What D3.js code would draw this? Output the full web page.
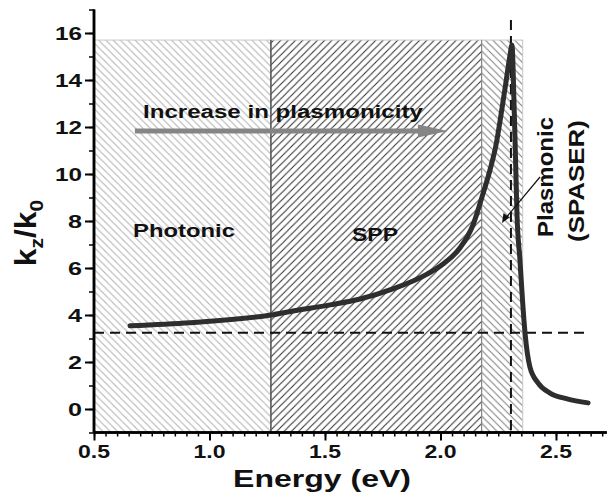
<!DOCTYPE html>
<html>
<head>
<meta charset="utf-8">
<script src="https://cdn.jsdelivr.net/npm/d3@7"></script>
<style>
  body { margin: 0; background: #fff; }
  text { font-family: Arial, "Liberation Sans", sans-serif; font-weight: bold; fill: #111; }
</style>
</head>
<body>
<div id="chart"></div>
<script>
// dispersion curve k_z/k_0 vs energy
var energy = [0.656, 0.916, 1.266, 1.361, 1.522, 1.652, 1.794, 1.942, 2.011, 2.084, 2.1407, 2.1797, 2.2143, 2.2403, 2.2619, 2.2835, 2.3009, 2.3095,
              2.318, 2.325, 2.331, 2.344, 2.355, 2.366, 2.387, 2.422, 2.474, 2.548, 2.639];
var kRatio = [3.54, 3.67, 4.00, 4.17, 4.43, 4.68, 5.11, 5.74, 6.17, 6.85, 7.83, 9.02, 10.17, 11.23, 12.51, 13.91, 15.06, 15.49,
              13.15, 10.6, 8.34, 6.34, 4.64, 3.23, 1.79, 1.11, 0.68, 0.43, 0.26];

// shaded regimes (energy bounds)
var regionNames = ['Photonic', 'SPP', 'Plasmonic'];
var regionStart = [0.5, 1.266, 2.178];
var regionEnd = [1.266, 2.178, 2.356];
var regionTop = 15.7;

// reference lines
var lightLineK = 3.25;      // horizontal dashed
var lightLineEnd = 2.634;
var peakEnergy = 2.305;     // vertical dashed
var peakLineTop = 16.55;

var xTicks = [0.5, 1.0, 1.5, 2.0, 2.5];
var yTicks = [0, 2, 4, 6, 8, 10, 12, 14, 16];

var width = 611, height = 504;
var x = d3.scaleLinear().domain([0.5, 2.72]).range([94, 606.8]);
var y = d3.scaleLinear().domain([-1, 17]).range([432.5, 9.5]);

var svg = d3.select('#chart').append('svg')
    .attr('width', width)
    .attr('height', height);

// hatch patterns
var defs = svg.append('defs');
function hatch(id, color, sw, forward) {
    var w = 7.3;
    var p = defs.append('pattern')
        .attr('id', id)
        .attr('patternUnits', 'userSpaceOnUse')
        .attr('width', w).attr('height', w);
    p.append('rect').attr('width', w).attr('height', w).attr('fill', '#fff');
    var segs = forward
        ? [[0, w, w, 0], [-w/2, w/2, w/2, -w/2], [w/2, w*1.5, w*1.5, w/2]]
        : [[0, 0, w, w], [-w/2, w/2, w/2, w*1.5], [w/2, -w/2, w*1.5, w/2]];
    segs.forEach(s => {
        p.append('line')
            .attr('x1', s[0]).attr('y1', s[1]).attr('x2', s[2]).attr('y2', s[3])
            .attr('stroke', color).attr('stroke-width', sw);
    });
}
hatch('h-photonic', '#b4b4b4', 1.1, false);
hatch('h-spp', '#2a2a2a', 1.0, true);
hatch('h-plasmonic', '#7a7a7a', 1.0, false);

var fills = ['url(#h-photonic)', 'url(#h-spp)', 'url(#h-plasmonic)'];

svg.append('g').selectAll('.region')
    .data(regionNames)
    .join('rect')
    .classed('region', true)
    .attr('x', (d, i) => x(regionStart[i]))
    .attr('y', y(regionTop))
    .attr('width', (d, i) => x(regionEnd[i]) - x(regionStart[i]))
    .attr('height', y(-1) - y(regionTop))
    .attr('fill', (d, i) => fills[i])
    .attr('stroke', '#c8c8c8')
    .attr('stroke-width', 1);

// region dividers
svg.append('line')
    .attr('x1', x(regionStart[1])).attr('x2', x(regionStart[1]))
    .attr('y1', y(regionTop)).attr('y2', y(-1))
    .attr('stroke', '#333').attr('stroke-width', 1.2);
svg.append('line')
    .attr('x1', x(regionStart[2])).attr('x2', x(regionStart[2]))
    .attr('y1', y(regionTop)).attr('y2', y(-1))
    .attr('stroke', '#888').attr('stroke-width', 1.2);

// dashed lines
svg.append('line')
    .attr('x1', x(0.5)).attr('x2', x(lightLineEnd))
    .attr('y1', y(lightLineK)).attr('y2', y(lightLineK))
    .attr('stroke', '#111').attr('stroke-width', 2)
    .attr('stroke-dasharray', '10,6');
svg.append('line')
    .attr('x1', x(peakEnergy)).attr('x2', x(peakEnergy))
    .attr('y1', y(peakLineTop)).attr('y2', y(-1))
    .attr('stroke', '#111').attr('stroke-width', 2)
    .attr('stroke-dasharray', '10,6');

// the curve
var pts = energy.map((e, i) => [e, kRatio[i]]);
svg.append('path')
    .datum(pts)
    .attr('d', d3.line().x(d => x(d[0])).y(d => y(d[1])).curve(d3.curveMonotoneX))
    .attr('fill', 'none')
    .attr('stroke', '#2e2e2e')
    .attr('stroke-width', 5)
    .attr('stroke-linecap', 'round')
    .attr('stroke-linejoin', 'round');

// text helper: squeeze/stretch horizontally to a target length
function label(str, px, py, size, target, anchor, rot) {
    var g = svg.append('g');
    var t = g.append('text')
        .attr('font-size', size)
        .attr('text-anchor', anchor || 'start')
        .text(str);
    var sx = target ? target / t.node().getComputedTextLength() : 1;
    g.attr('transform', `translate(${px},${py}) rotate(${rot || 0}) scale(${sx},1)`);
    return t;
}

// gray arrow
svg.append('line')
    .attr('x1', x(0.677)).attr('x2', x(2.032) - 26)
    .attr('y1', y(11.83)).attr('y2', y(11.83))
    .attr('stroke', '#858585').attr('stroke-width', 5);
svg.append('path')
    .attr('d', `M${x(2.032)},${y(11.83)} l-30,-6.5 l0,13 z`)
    .attr('fill', '#858585');

label('Increase in plasmonicity', 143, 118, 19, 280);
label('Photonic', 133, 237, 18, 102);
label('SPP', 352, 241, 18, 46);
label('Plasmonic', 553, 177, 22, 120, 'middle', -90);
label('(SPASER)', 584, 181, 22, 122, 'middle', -90);

// small black arrow
svg.append('line')
    .attr('x1', 540).attr('y1', 177).attr('x2', 505).attr('y2', 219)
    .attr('stroke', '#111').attr('stroke-width', 1.2);
svg.append('path')
    .attr('d', 'M502,223 l1.5,-10 l6,4.5 z')
    .attr('fill', '#111');

// axes
var xAxis = svg.append('g').attr('transform', `translate(0,${y(-1)})`);
xAxis.call(d3.axisBottom(x).tickValues(d3.range(0.5, 2.72, 0.05)).tickSize(4).tickFormat(''));
xAxis.call(g => g.selectAll('.tick line').attr('stroke-width', 1.5));
var xMajor = svg.append('g').attr('transform', `translate(0,${y(-1)})`);
xMajor.call(d3.axisBottom(x).tickValues(xTicks).tickSize(8).tickFormat(''));
xMajor.selectAll('.tick line').attr('stroke-width', 2);
[xAxis, xMajor].forEach(a => a.select('.domain').attr('stroke-width', 2.5).attr('d', `M${x(0.5)},0H${x(2.72)}`));

var yAxis = svg.append('g').attr('transform', `translate(${x(0.5)},0)`);
yAxis.call(d3.axisLeft(y).tickValues(d3.range(-1, 17.5, 1)).tickSize(5).tickFormat(''));
yAxis.selectAll('.tick line').attr('stroke-width', 1.5);
var yMajor = svg.append('g').attr('transform', `translate(${x(0.5)},0)`);
yMajor.call(d3.axisLeft(y).tickValues(yTicks).tickSize(9).tickFormat(''));
yMajor.selectAll('.tick line').attr('stroke-width', 2);
[yAxis, yMajor].forEach(a => a.select('.domain').attr('stroke-width', 2.5).attr('d', `M0,${y(-1)}V${y(17)}`));

xTicks.forEach(v => label(d3.format('.1f')(v), x(v), 458, 18, 32, 'middle'));
yTicks.forEach(v => {
    var w = String(v).length == 1 ? 14 : 27;
    label(String(v), 82, y(v) + 6.5, 18, w, 'end');
});

label('Energy (eV)', 322, 487, 23, 178, 'middle');

// y title with subscripts
var yt = svg.append('g').attr('transform', 'translate(36,233) rotate(-90) scale(1.1,1)');
var ytt = yt.append('text').attr('text-anchor', 'middle').attr('font-size', 29);
ytt.append('tspan').text('k');
ytt.append('tspan').attr('font-size', 19).attr('dy', 7).text('z');
ytt.append('tspan').attr('dy', -7).text('/k');
ytt.append('tspan').attr('font-size', 19).attr('dy', 7).text('0');
</script>
</body>
</html>
